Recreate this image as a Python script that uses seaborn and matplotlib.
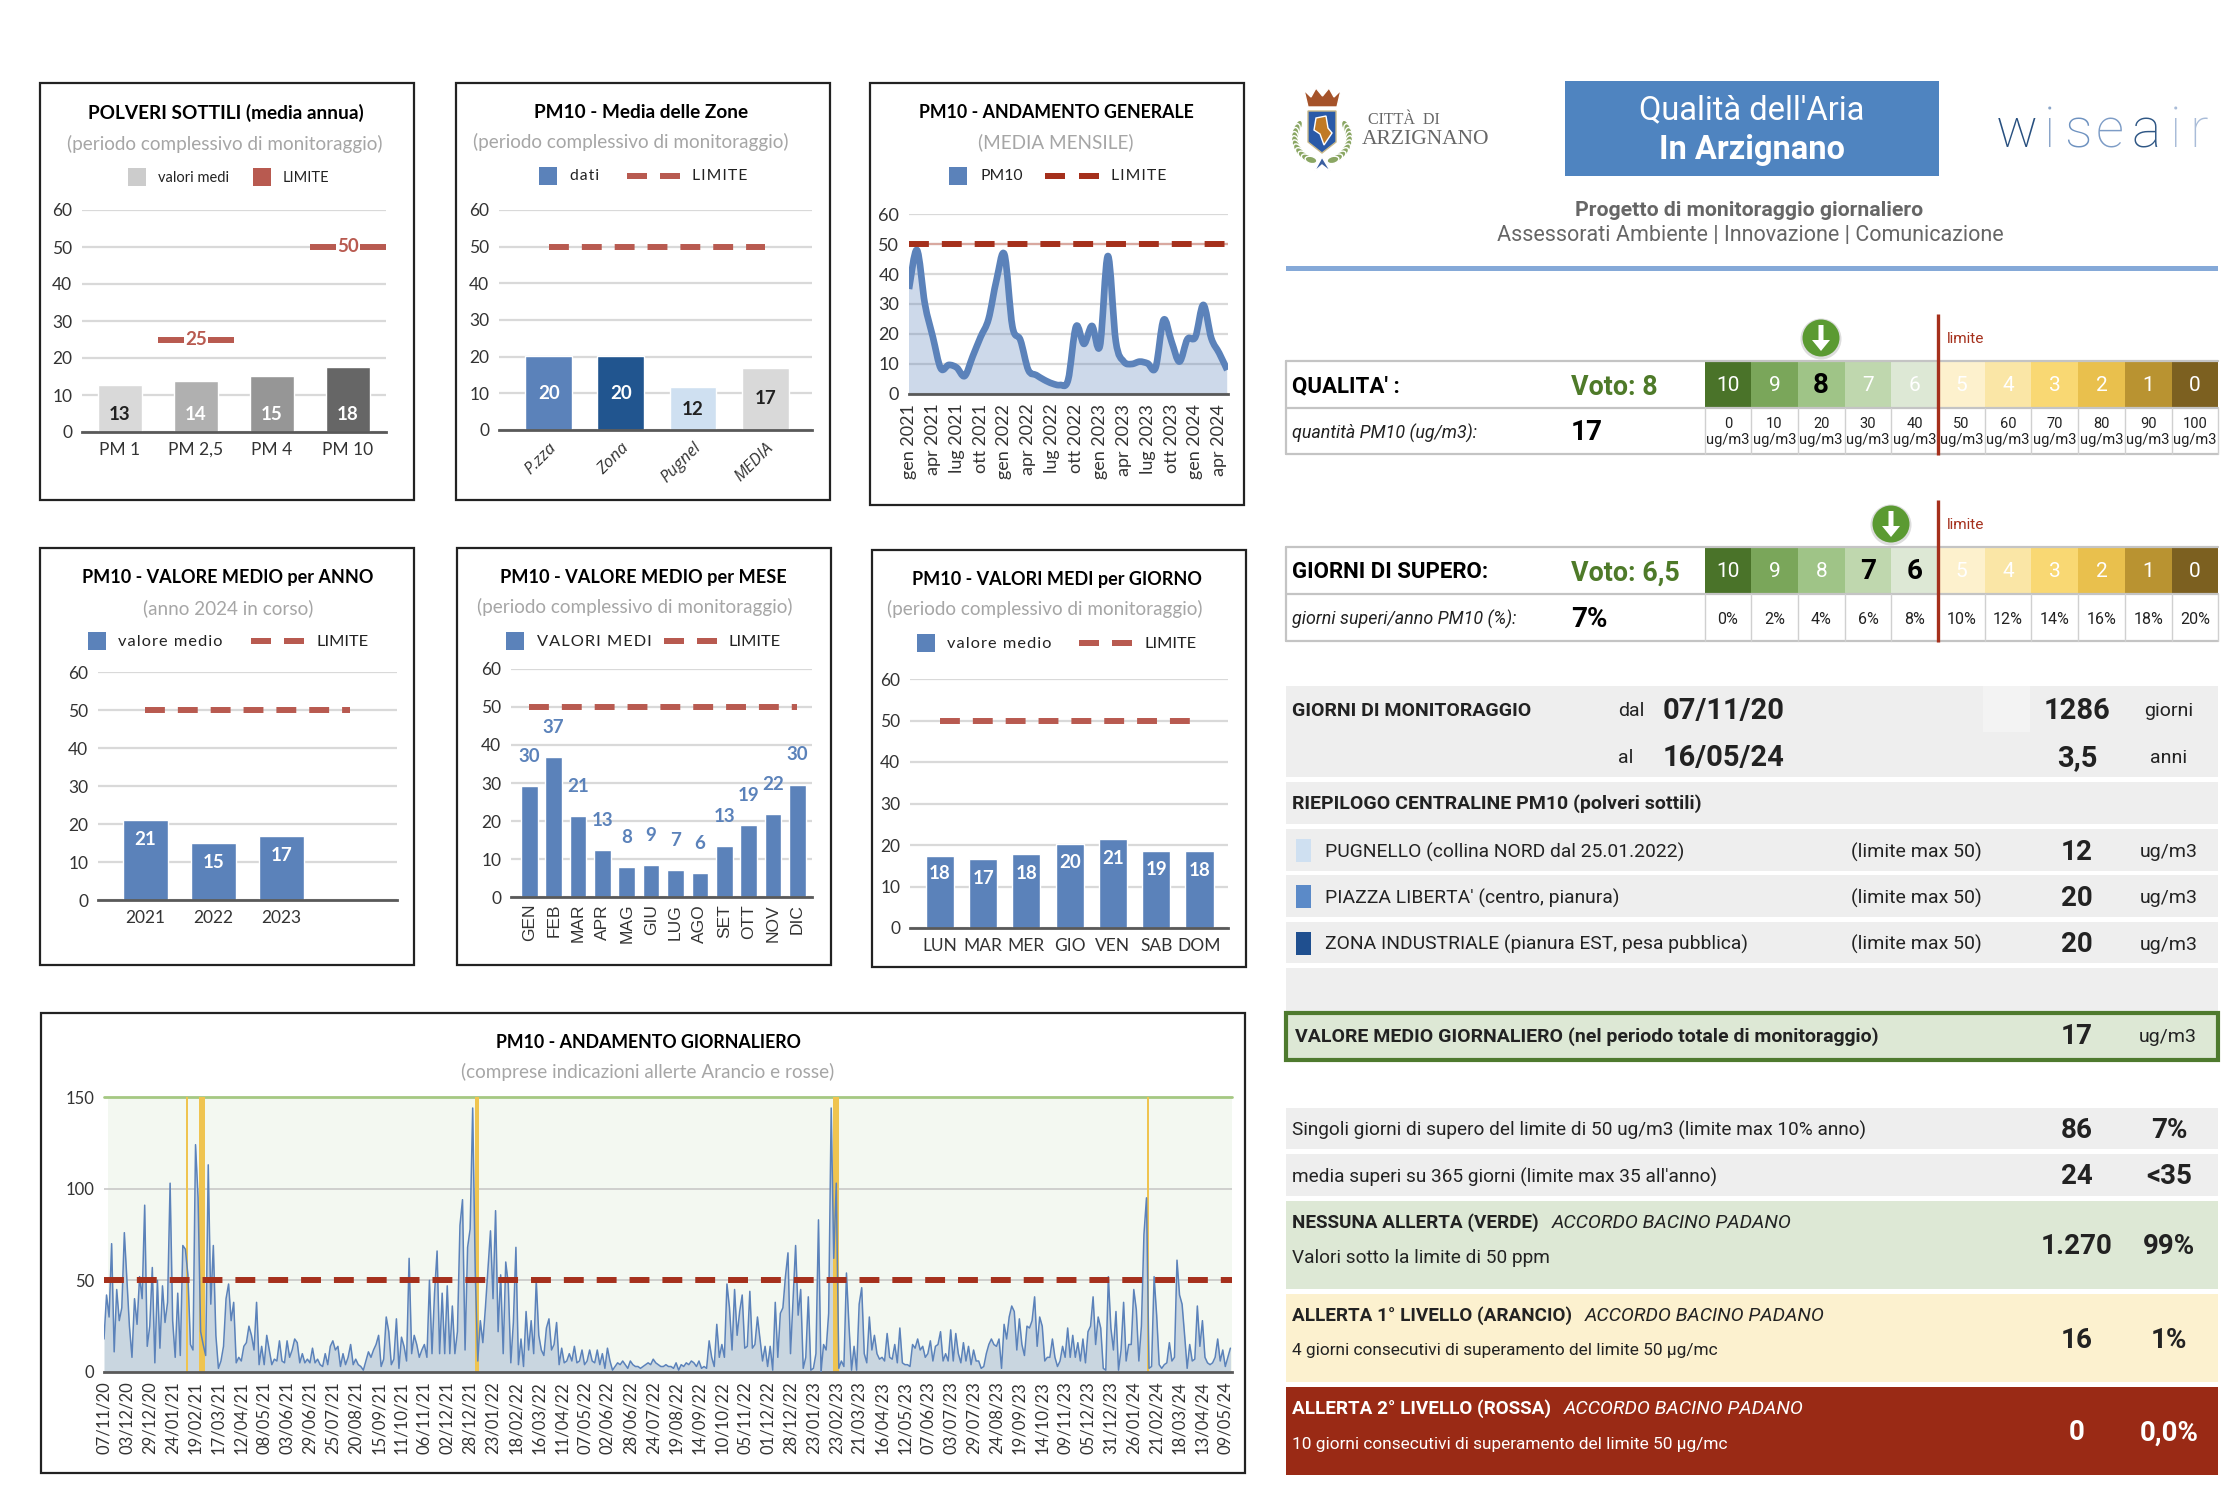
import matplotlib
matplotlib.use('Agg')
import matplotlib.pyplot as plt
from matplotlib.patches import Rectangle, Circle, Polygon, Ellipse, FancyArrow, PathPatch
from matplotlib.path import Path
import numpy as np
import seaborn as sns

W, H = 2234, 1504

# --- data ---
pm_cats = ['PM 1', 'PM 2,5', 'PM 4', 'PM 10']
pm_vals = [12.7, 13.9, 15.1, 17.5]
pm_labels = ['13', '14', '15', '18']
pm_colors = ['#d9d9d9', '#b0b0b0', '#969696', '#666666']
pm_limits = [None, 25, None, 50]

zone_cats = ['P.zza', 'Zona', 'Pugnel', 'MEDIA']
zone_vals = [20.2, 20.2, 11.7, 17.0]
zone_colors = ['#5b82ba', '#21558f', '#cfe0f1', '#d9d9d9']

month_ticks = ['gen 2021', 'apr 2021', 'lug 2021', 'ott 2021', 'gen 2022', 'apr 2022', 'lug 2022',
               'ott 2022', 'gen 2023', 'apr 2023', 'lug 2023', 'ott 2023', 'gen 2024', 'apr 2024']
month_vals = [35, 48, 30, 19, 8.5, 9.7, 8.8, 6, 12.5, 19, 25, 38, 46.5, 22.5, 18, 8, 6.3, 4.7, 3.5, 3,
              4.7, 22.5, 16.7, 22.7, 16, 46, 17.5, 10.8, 10, 10.8, 10.2, 8.8, 24.7, 17.5, 10.8, 18.3,
              19, 29.7, 18.6, 13.6, 8]

year_cats = ['2021', '2022', '2023', '']
year_vals = [21.0, 15.1, 16.8, 0]
year_labels = ['21', '15', '17']

mese_cats = ['GEN', 'FEB', 'MAR', 'APR', 'MAG', 'GIU', 'LUG', 'AGO', 'SET', 'OTT', 'NOV', 'DIC']
mese_vals = [29.2, 36.8, 21.3, 12.3, 7.9, 8.3, 7.2, 6.4, 13.5, 19.0, 21.8, 29.6]
mese_labels = ['30', '37', '21', '13', '8', '9', '7', '6', '13', '19', '22', '30']

giorno_cats = ['LUN', 'MAR', 'MER', 'GIO', 'VEN', 'SAB', 'DOM']
giorno_vals = [17.4, 16.7, 17.8, 20.3, 21.4, 18.6, 18.6]
giorno_labels = ['18', '17', '18', '20', '21', '19', '18']

daily_ticks = ['07/11/20', '03/12/20', '29/12/20', '24/01/21', '19/02/21', '17/03/21', '12/04/21', '08/05/21',
               '03/06/21', '29/06/21', '25/07/21', '20/08/21', '15/09/21', '11/10/21', '06/11/21', '02/12/21',
               '28/12/21', '23/01/22', '18/02/22', '16/03/22', '11/04/22', '07/05/22', '02/06/22', '28/06/22',
               '24/07/22', '19/08/22', '14/09/22', '10/10/22', '05/11/22', '01/12/22', '28/12/22', '23/01/23',
               '23/02/23', '21/03/23', '16/04/23', '12/05/23', '07/06/23', '03/07/23', '29/07/23', '24/08/23',
               '19/09/23', '14/10/23', '09/11/23', '05/12/23', '31/12/23', '26/01/24', '21/02/24', '18/03/24',
               '13/04/24', '09/05/24']
# nine readings for every tick interval (26 days)
daily_vals = [
    18, 42, 30, 70, 11, 45, 28, 35, 76,
    50, 25, 8, 40, 26, 52, 40, 91, 14,
    25, 57, 5, 50, 13, 47, 27, 38, 103,
    28, 8, 43, 9, 69, 67, 53, 15, 12,
    124, 95, 22, 15, 9, 113, 37, 69, 20,
    2, 6, 14, 40, 48, 28, 38, 5, 8,
    6, 14, 16, 25, 20, 12, 38, 4, 14,
    4, 20, 12, 4, 7, 6, 17, 6, 5,
    17, 8, 12, 18, 16, 5, 10, 5, 7,
    5, 13, 5, 7, 4, 3, 10, 4, 14,
    17, 12, 14, 3, 10, 4, 8, 15, 4,
    7, 4, 3, 1, 6, 11, 8, 12, 15,
    20, 3, 7, 30, 22, 4, 7, 29, 2,
    19, 14, 6, 62, 10, 20, 15, 8, 12,
    15, 8, 50, 10, 43, 66, 10, 43, 10,
    47, 10, 36, 10, 22, 80, 94, 12, 68,
    78, 144, 55, 6, 28, 16, 35, 56, 77,
    40, 88, 22, 53, 10, 60, 48, 5, 27,
    68, 4, 18, 3, 33, 12, 28, 10, 50,
    20, 12, 9, 24, 29, 12, 15, 27, 4,
    13, 5, 6, 10, 6, 14, 5, 6, 12,
    4, 6, 12, 6, 5, 12, 4, 10, 2,
    13, 6, 1, 3, 5, 4, 6, 4, 2,
    6, 4, 3, 3, 2, 3, 4, 5, 4,
    7, 5, 4, 3, 3, 4, 3, 3, 2,
    5, 1, 4, 3, 5, 4, 6, 5, 3,
    6, 2, 3, 2, 17, 8, 3, 26, 8,
    15, 8, 48, 35, 12, 45, 20, 33, 42,
    13, 14, 44, 13, 15, 30, 18, 6, 14,
    3, 14, 1, 38, 8, 32, 35, 52, 65,
    10, 40, 69, 31, 45, 2, 8, 41, 1,
    2, 10, 83, 0, 15, 12, 32, 144, 62,
    103, 2, 6, 3, 54, 25, 1, 14, 1,
    37, 46, 10, 5, 30, 12, 20, 10, 7,
    8, 6, 21, 8, 7, 15, 5, 24, 5,
    4, 4, 3, 15, 13, 18, 12, 14, 8,
    10, 17, 6, 14, 15, 22, 6, 10, 6,
    23, 6, 21, 10, 5, 16, 6, 14, 4,
    12, 6, 6, 2, 3, 10, 15, 18, 15,
    14, 18, 2, 26, 18, 30, 36, 33, 12,
    29, 15, 9, 25, 24, 28, 41, 14, 30,
    25, 6, 8, 8, 18, 8, 3, 6, 14,
    8, 24, 8, 20, 8, 16, 6, 18, 5,
    22, 25, 41, 15, 30, 24, 2, 1, 52,
    24, 12, 33, 1, 12, 38, 6, 15, 15,
    45, 34, 6, 25, 75, 95, 2, 3, 52,
    31, 4, 2, 4, 5, 16, 6, 8, 61,
    42, 37, 20, 2, 15, 6, 7, 36, 14,
    28, 8, 5, 4, 5, 8, 18, 6, 12,
    3, 8, 13,
]
# alert periods, as positions on the daily axis
alert_start = [93.5, 107.4, 422, 828.3, 1184.5]
alert_end = [96, 114.6, 425.5, 835.4, 1187.2]

scale_colors = ['#4a7329', '#7aa65a', '#9fc487', '#bfd7ae', '#dde8d5', '#fdf1cd',
                '#fae6a6', '#f9d873', '#e9c04d', '#b99331', '#7c6020']
scale_votes = ['10', '9', '8', '7', '6', '5', '4', '3', '2', '1', '0']
qual_ticks = ['0', '10', '20', '30', '40', '50', '60', '70', '80', '90', '100']
sup_ticks = ['0%', '2%', '4%', '6%', '8%', '10%', '12%', '14%', '16%', '18%', '20%']

BLUE = '#5b82ba'
LIM = '#b85a50'
DARKRED = '#a5301c'
GRID = '#d9d9d9'

sns.set_theme(style='white')
plt.rcParams['font.family'] = ['Lato', 'DejaVu Sans']
plt.rcParams['axes.unicode_minus'] = False

fig = plt.figure(figsize=(W / 100, H / 100), dpi=100, facecolor='white')

# whole-page axes in pixel units, everything that is not a chart sits here
bg = fig.add_axes([0, 0, 1, 1], zorder=0)
bg.set_xlim(0, W)
bg.set_ylim(H, 0)
bg.axis('off')


def txt(x, y, s, size=14, weight='normal', color='#222222', ha='left', style='normal', family='Roboto', dy=2, **kw):
    return bg.text(x, y + dy, s, fontsize=size, fontweight=weight, color=color, ha=ha, va='center',
                   fontstyle=style, family=[family, 'DejaVu Sans'], **kw)


def box(x0, y0, x1, y1, color, **kw):
    bg.add_patch(Rectangle((x0, y0), x1 - x0, y1 - y0, facecolor=color, edgecolor=kw.pop('edge', 'none'), **kw))


def chart_axes(l, t, r, b):
    ax = fig.add_axes([l / W, 1 - b / H, (r - l) / W, (b - t) / H], zorder=1)
    ax.patch.set_alpha(0)
    return ax


def style_axes(ax, ymax=60, step=10, tick=12.5):
    ax.set_ylim(0, ymax)
    ax.set_yticks(range(0, ymax + 1, step))
    ax.yaxis.grid(True, color=GRID, lw=1.6)
    ax.xaxis.grid(False)
    ax.set_axisbelow(True)
    sns.despine(ax=ax, left=True)
    ax.spines['bottom'].set_color('#595959')
    ax.spines['bottom'].set_linewidth(2)
    ax.tick_params(length=0, labelsize=tick, colors='#333333', pad=7)
    ax.set_xlabel('')
    ax.set_ylabel('')


def limit_line(ax, xs, color=LIM):
    ax.plot(xs, [50] * len(xs), color=color, lw=4.3, dashes=(3.33, 2.17), zorder=4)


def panel(x0, y0, x1, y1, title, tx, ty, tsize, sub, sx, sy):
    bg.add_patch(Rectangle((x0, y0), x1 - x0, y1 - y0, facecolor='white', edgecolor='#222222', lw=1.6))
    txt(tx, ty, title, size=tsize, weight='bold', color='black', ha='center', family='Lato', dy=1)
    txt(sx, sy, sub, size=13.6, color='#a6a6a6', ha='center', family='Lato', dy=0)


def spaced(s):
    # legend text of the original is letter spaced
    return '\u200a'.join(s)


def legend(sq, sq_y, sq_color, label, lx, lims, lim_y, lim_color, lim_x, lim_label='LIMITE', solid=None, size=11.3):
    box(sq, sq_y, sq + 18, sq_y + 18, sq_color)
    txt(lx, sq_y + 9, label, size=size, family='Lato', dy=0.5)
    if solid is not None:
        box(solid, sq_y, solid + 18, sq_y + 18, lim_color)
    for d in lims:
        box(d, lim_y - 3, d + 20, lim_y + 3, lim_color)
    txt(lim_x, sq_y + 9, lim_label, size=size, family='Lato', dy=0.5)


def smooth_path(x, y, close=False):
    # same vertices as the data, joined with rounded segments like a spreadsheet "smoothed line"
    pts = np.column_stack([x, y]).astype(float)
    verts = [pts[0]]
    codes = [Path.MOVETO]
    for i in range(len(pts) - 1):
        prev = pts[max(i - 1, 0)]
        nxt = pts[min(i + 2, len(pts) - 1)]
        verts += [pts[i] + (pts[i + 1] - prev) / 6, pts[i + 1] - (nxt - pts[i]) / 6, pts[i + 1]]
        codes += [Path.CURVE4] * 3
    if close:
        verts += [(x[-1], 0), (x[0], 0), pts[0]]
        codes += [Path.LINETO, Path.LINETO, Path.CLOSEPOLY]
    return Path(verts, codes)


# --- PM sizes ---
panel(40, 83, 414, 500, 'POLVERI SOTTILI (media annua)', 226, 112, 13.7, '(periodo complessivo di monitoraggio)', 225, 144)
legend(128, 168, '#cccccc', 'valori medi', 158, [], 0, LIM, 283, solid=253, size=10.5)
ax = chart_axes(82, 210, 386, 432)
sns.barplot(x=pm_cats, y=pm_vals, hue=pm_cats, palette=pm_colors, width=0.59, saturation=1, legend=False, ax=ax)
style_axes(ax)
for i, lab in enumerate(pm_labels):
    ax.text(i, 4.7, lab, ha='center', va='center', fontsize=13.5, fontweight='bold',
            color='#222222' if i == 0 else 'white')
for i, lim in enumerate(pm_limits):
    if lim is not None:
        ax.plot([i - 0.5, i + 0.5], [lim, lim], color=LIM, lw=4.3, zorder=3, solid_capstyle='butt')
        ax.text(i, lim, str(lim), ha='center', va='center', fontsize=13.5, fontweight='bold', color=LIM,
                bbox=dict(fc='white', ec='none', pad=1), zorder=4)
ax.set_xlim(-0.5, 3.5)

# --- zones ---
panel(456, 83, 830, 500, 'PM10 - Media delle Zone', 641, 112, 13.7, '(periodo complessivo di monitoraggio)', 631, 142)
legend(539, 167, BLUE, spaced('dati'), 570, [627, 660], 176, LIM, 692, spaced('LIMITE'))
ax = chart_axes(499, 210, 812, 430)
sns.barplot(x=zone_cats, y=zone_vals, hue=zone_cats, palette=zone_colors, width=0.65, saturation=1, legend=False, ax=ax)
style_axes(ax)
limit_line(ax, range(len(zone_cats)))
for i, (v, y) in enumerate(zip(zone_vals, [10, 10, 5.7, 8.6])):
    ax.text(i, y, f'{v:.0f}', ha='center', va='center', fontsize=13.5, fontweight='bold',
            color='white' if i < 2 else '#222222')
ax.set_xticks(range(4))
ax.set_xticklabels(zone_cats, rotation=45, ha='right', rotation_mode='anchor', style='italic', family='Open Sans', fontsize=12)
ax.set_xlim(-0.69, 3.65)

# --- monthly ---
panel(870, 83, 1244, 505, 'PM10 - ANDAMENTO GENERALE', 1056, 112, 12.8, '(MEDIA MENSILE)', 1056, 142)
legend(949, 167, BLUE, 'PM10', 980, [1045, 1079], 176, DARKRED, 1111, spaced('LIMITE'))
ax = chart_axes(909, 214, 1228, 394)
x_month = np.arange(len(month_vals))
ax.add_patch(PathPatch(smooth_path(x_month, month_vals, close=True), facecolor=BLUE, alpha=0.3, lw=0))
ax.add_patch(PathPatch(smooth_path(x_month, month_vals), facecolor='none', edgecolor=BLUE, lw=4.8,
                       capstyle='butt', joinstyle='round', zorder=3))
style_axes(ax, tick=13)
ax.set_xlim(0, 40.1)
ax.set_xticks(x_month[::3])
ax.set_xticklabels(month_ticks, rotation=90)
ax.axhline(50, color='#d9a9a0', lw=1.6, zorder=1)
limit_line(ax, [0, 40.1], DARKRED)

# --- year ---
panel(40, 548, 414, 965, 'PM10 - VALORE MEDIO per ANNO', 228, 577, 13, '(anno 2024 in corso)', 228, 608)
legend(88, 632, BLUE, spaced('valore medio'), 118, [251, 284], 641, LIM, 316, size=11.8)
ax = chart_axes(98, 672, 397, 900)
sns.barplot(x=year_cats, y=year_vals, color=BLUE, width=0.66, saturation=1, ax=ax)
style_axes(ax)
ax.set_xlim(-0.69, 3.69)
limit_line(ax, range(len(year_cats)))
for i, (lab, y) in enumerate(zip(year_labels, [16, 10, 11.6])):
    ax.text(i, y, lab, ha='center', va='center', fontsize=13.5, fontweight='bold', color='white')

# --- month of year ---
panel(457, 548, 831, 965, 'PM10 - VALORE MEDIO per MESE', 643, 577, 13.1, '(periodo complessivo di monitoraggio)', 635, 607)
legend(506, 632, BLUE, spaced('VALORI MEDI'), 537, [664, 697], 641, LIM, 729, size=11.8)
ax = chart_axes(511, 669, 812, 897)
sns.barplot(x=mese_cats, y=mese_vals, color=BLUE, width=0.68, saturation=1, ax=ax)
style_axes(ax)
ax.set_xlim(-0.75, 11.6)
limit_line(ax, range(len(mese_cats)))
for i, (v, lab) in enumerate(zip(mese_vals, mese_labels)):
    ax.text(i, v + 7.8, lab, ha='center', va='center', fontsize=13.5, fontweight='bold', color=BLUE)
ax.tick_params(axis='x', labelsize=12.5, pad=5)
ax.set_xticks(range(12))
ax.set_xticklabels(mese_cats, rotation=90, family='Liberation Sans')

# --- weekday ---
panel(872, 550, 1246, 967, 'PM10 - VALORI MEDI per GIORNO', 1057, 578, 13, '(periodo complessivo di monitoraggio)', 1045, 609)
legend(917, 634, BLUE, spaced('valore medio'), 947, [1079, 1112], 643, LIM, 1144, size=11.8)
ax = chart_axes(910, 679, 1228, 928)
sns.barplot(x=giorno_cats, y=giorno_vals, color=BLUE, width=0.65, saturation=1, ax=ax)
style_axes(ax)
ax.set_xlim(-0.69, 6.66)
limit_line(ax, range(len(giorno_cats)))
for i, (lab, y) in enumerate(zip(giorno_labels, [13.1, 12, 13.2, 15.9, 16.7, 14, 13.9])):
    ax.text(i, y, lab, ha='center', va='center', fontsize=13.5, fontweight='bold', color='white')

# --- daily ---
panel(41, 1013, 1245, 1473, 'PM10 - ANDAMENTO GIORNALIERO', 648, 1042, 12.8, '(comprese indicazioni allerte Arancio e rosse)', 648, 1072)
ax = chart_axes(104, 1097, 1232, 1372)
x_daily = np.arange(len(daily_vals)) * 26 / 9
ax.axvspan(4, 1281.6, color='#f3f8f1', lw=0, zorder=0)
ax.fill_between(x_daily, daily_vals, color='#c9d6e0', lw=0, zorder=2)
sns.lineplot(x=x_daily, y=daily_vals, color=BLUE, lw=1.1, ax=ax, zorder=3)
style_axes(ax, ymax=150, step=50, tick=12)
ax.yaxis.grid(True, color='#c8c8c8', lw=1.2)
ax.set_xlim(0, 1281.6)
ax.set_xticks(np.arange(len(daily_ticks)) * 26)
ax.set_xticklabels(daily_ticks, rotation=90)
ax.axhline(150, color='#a5c882', lw=2, zorder=2, clip_on=False)
for a, b in zip(alert_start, alert_end):
    ax.axvspan(a, b, color='#efc450', lw=0, zorder=2.5)
limit_line(ax, [0, 1281.6], DARKRED)

# --- header, right side ---
box(1565, 81, 1939, 176, '#4f84c0')
txt(1752, 108, "Qualità dell'Aria", size=23.5, color='white', ha='center')
txt(1752, 148, 'In Arzignano', size=23.5, weight='bold', color='white', ha='center')
txt(1749, 209, 'Progetto di monitoraggio giornaliero', size=15.3, weight='bold', color='#666666', ha='center')
txt(1750, 234, 'Assessorati Ambiente | Innovazione | Comunicazione', size=15.5, color='#666666', ha='center')
box(1286, 266, 2218, 271, '#85a9d8')

# city logo
bg.add_patch(Polygon([(1304, 90), (1311, 97), (1316, 88), (1322.5, 96), (1329, 88), (1334, 97), (1341, 90),
                      (1337, 107), (1308, 107)], facecolor='#a5532a'))
for ang in np.linspace(-30, 66, 11):
    for sign in (-1, 1):
        rad = np.deg2rad(ang)
        bg.add_patch(Ellipse((1322 + sign * 27 * np.cos(rad), 138 + 24 * np.sin(rad)), 7, 12,
                             angle=sign * (ang + 10), facecolor='#8aa663'))
bg.add_patch(Polygon([(1308, 111), (1336, 111), (1336, 142), (1322, 153), (1308, 142)], facecolor='#2a5aa8', edgecolor='#c9b98a'))
bg.add_patch(Polygon([(1316, 118), (1326, 116), (1328, 128), (1332, 133), (1324, 145), (1320, 134), (1314, 130)], facecolor='#c07a25'))
bg.add_patch(Polygon([(1322, 157), (1314, 172), (1322, 165), (1331, 172)], facecolor='#3b5fa0'))
txt(1368, 118, 'CITTÀ  DI', size=11.5, color='#666666', family='Liberation Serif')
txt(1362, 138, 'ARZIGNANO', size=15.5, color='#666666', family='Liberation Serif')

# wiseair logo
for ch, cx, col in zip('wiseair', [2017, 2049, 2078, 2110, 2146, 2175, 2199],
                       ['#274f7f', '#8aa5c9', '#6e92c0', '#7d9cc6', '#2f5785', '#a9bcd8', '#a9bcd8']):
    bg.text(cx, 147, ch, fontsize=40, color=col, ha='center', va='baseline', family='Roboto', fontweight='light')

# --- score tables ---
cell0 = 1704.5
cell_w = 46.7


def score_table(top, mid, bot, name, voto, sub, value, bold_votes, ticks, line_top, arrow_x, two_lines):
    for y in (top, mid, bot):
        bg.plot([1286, 2218], [y, y], color='#c4c4c4', lw=1.6)
    bg.plot([1286, 1286], [top, bot], color='#c4c4c4', lw=1.6)
    for i, col in enumerate(scale_colors):
        x = cell0 + i * cell_w
        box(x, top + 1, x + cell_w, mid - 1, col)
        is_bold = scale_votes[i] in bold_votes
        txt(x + cell_w / 2, (top + mid) / 2, scale_votes[i], ha='center', dy=1,
            size=20 if is_bold else 15, weight='bold' if is_bold else 'normal',
            color='black' if is_bold else 'white')
        bg.plot([x, x], [mid, bot], color='#d0d0d0', lw=1)
        if two_lines:
            txt(x + cell_w / 2, mid + 14, ticks[i], size=10.5, ha='center')
            txt(x + cell_w / 2, mid + 30, 'ug/m3', size=10.5, ha='center')
        else:
            txt(x + cell_w / 2, (mid + bot) / 2, ticks[i], size=11.5, ha='center')
    bg.plot([2218, 2218], [mid, bot], color='#d0d0d0', lw=1)
    y1 = (top + mid) / 2
    y2 = (mid + bot) / 2
    txt(1291.5, y1, name, size=16, weight='bold', color='black')
    txt(1571, y1 + 1, voto, size=19.4, weight='bold', color='#4e7a29')
    txt(1291.5, y2, sub, size=12.9, style='italic')
    txt(1571, y2, value, size=20, weight='bold', color='black')
    xr = cell0 + 5 * cell_w
    bg.plot([xr, xr], [line_top, bot + 1], color=DARKRED, lw=2.4, solid_capstyle='butt')
    txt(xr + 8.5, line_top + 23, 'limite', size=11, color=DARKRED)
    cy = line_top + 24
    bg.add_patch(Circle((arrow_x, cy + 1), 20.5, facecolor='#dddddd', edgecolor='none'))
    bg.add_patch(Circle((arrow_x, cy), 18.5, facecolor='#5b9a32', edgecolor='none'))
    bg.add_patch(FancyArrow(arrow_x, cy - 13, 0, 26, width=5, head_width=18, head_length=11,
                            length_includes_head=True, facecolor='white', edgecolor='none'))


score_table(361, 408, 454, "QUALITA' :", 'Voto: 8', 'quantità PM10 (ug/m3):', '17', ['8'], qual_ticks, 314, 1821, True)
score_table(547, 594, 641, 'GIORNI DI SUPERO:', 'Voto: 6,5', 'giorni superi/anno PM10 (%):', '7%', ['7', '6'], sup_ticks, 500, 1891, False)

# --- summary table ---
X0, X1 = 1286, 2218
NUM, UNIT = 2077, 2169
box(X0, 686, X1, 777, '#eeeeee')
box(1983, 686, 2030, 732, '#f3f3f3')
txt(1291.5, 709, 'GIORNI DI MONITORAGGIO', weight='bold')
txt(1618, 709, 'dal')
txt(1663, 709, '07/11/20', size=21, weight='bold')
txt(NUM, 709, '1286', size=21, weight='bold', ha='center')
txt(UNIT, 709, 'giorni', ha='center')
txt(1618, 756, 'al')
txt(1663, 756, '16/05/24', size=21, weight='bold')
txt(NUM, 756, '3,5', size=21, weight='bold', ha='center')
txt(UNIT, 756, 'anni', ha='center')

box(X0, 782, X1, 824, '#eeeeee')
txt(1291.5, 802, 'RIEPILOGO CENTRALINE PM10 (polveri sottili)', weight='bold')

station_rows = [(829, 871, '#cfe0f1', 'PUGNELLO (collina NORD dal 25.01.2022)', '12'),
                (875, 917, '#5b8ac8', "PIAZZA LIBERTA' (centro, pianura)", '20'),
                (922, 963, '#1f4f8f', 'ZONA INDUSTRIALE (pianura EST, pesa pubblica)', '20')]
for t, b, col, name, val in station_rows:
    box(X0, t, X1, b, '#eeeeee')
    box(1296, t + 10, 1311, t + 33, col)
    txt(1325, (t + b) / 2, name, size=13.9)
    txt(1851, (t + b) / 2, '(limite max 50)')
    txt(NUM, (t + b) / 2, val, size=20, weight='bold', ha='center')
    txt(UNIT, (t + b) / 2, 'ug/m3', ha='center')
box(X0, 968, X1, 1011, '#eeeeee')

bg.add_patch(Rectangle((1286, 1013), 932, 47, facecolor='#dde8d5', edgecolor='#4e7a2e', lw=3))
txt(1295, 1035, 'VALORE MEDIO GIORNALIERO (nel periodo totale di monitoraggio)', weight='bold')
txt(NUM, 1035, '17', size=20, weight='bold', ha='center')
txt(UNIT - 1, 1035, 'ug/m3', ha='center')

box(X0, 1108, X1, 1149, '#eeeeee')
txt(1291.5, 1128, 'Singoli giorni di supero del limite di 50 ug/m3 (limite max 10% anno)', size=13.7)
txt(NUM, 1128, '86', size=20, weight='bold', ha='center')
txt(UNIT, 1128, '7%', size=20, weight='bold', ha='center')
box(X0, 1154, X1, 1196, '#eeeeee')
txt(1291.5, 1175, "media superi su 365 giorni (limite max 35 all'anno)", size=13.7)
txt(NUM, 1175, '24', size=20, weight='bold', ha='center')
txt(UNIT, 1175, '<35', size=20, weight='bold', ha='center')

alert_rows = [(1201, 1289, '#dde8d5', '#222222', 'NESSUNA ALLERTA (VERDE)', 1552, 'Valori sotto la limite di 50 ppm', '1.270', '99%', 13.7),
              (1294, 1382, '#fcf1cf', '#222222', 'ALLERTA 1° LIVELLO (ARANCIO)', 1585, '4 giorni consecutivi di superamento del limite 50 µg/mc', '16', '1%', 12.4),
              (1387, 1475, '#9a2a15', 'white', 'ALLERTA 2° LIVELLO (ROSSA)', 1564, '10 giorni consecutivi di superamento del limite 50 µg/mc', '0', '0,0%', 12.4)]
for t, b, col, fg, head, ix, line2, n, pct, fs2 in alert_rows:
    box(X0, t, X1, b, col)
    txt(1291.5, t + 20, head, size=13.6, weight='bold', color=fg)
    txt(ix, t + 20, 'ACCORDO BACINO PADANO', style='italic', color=fg)
    txt(1291.5, t + 55, line2, size=fs2, color=fg)
    txt(NUM, t + 44, n, size=20, weight='bold', color=fg, ha='center')
    txt(UNIT, t + 44, pct, size=20, weight='bold', color=fg, ha='center')

fig.savefig('out.png', dpi=100)
